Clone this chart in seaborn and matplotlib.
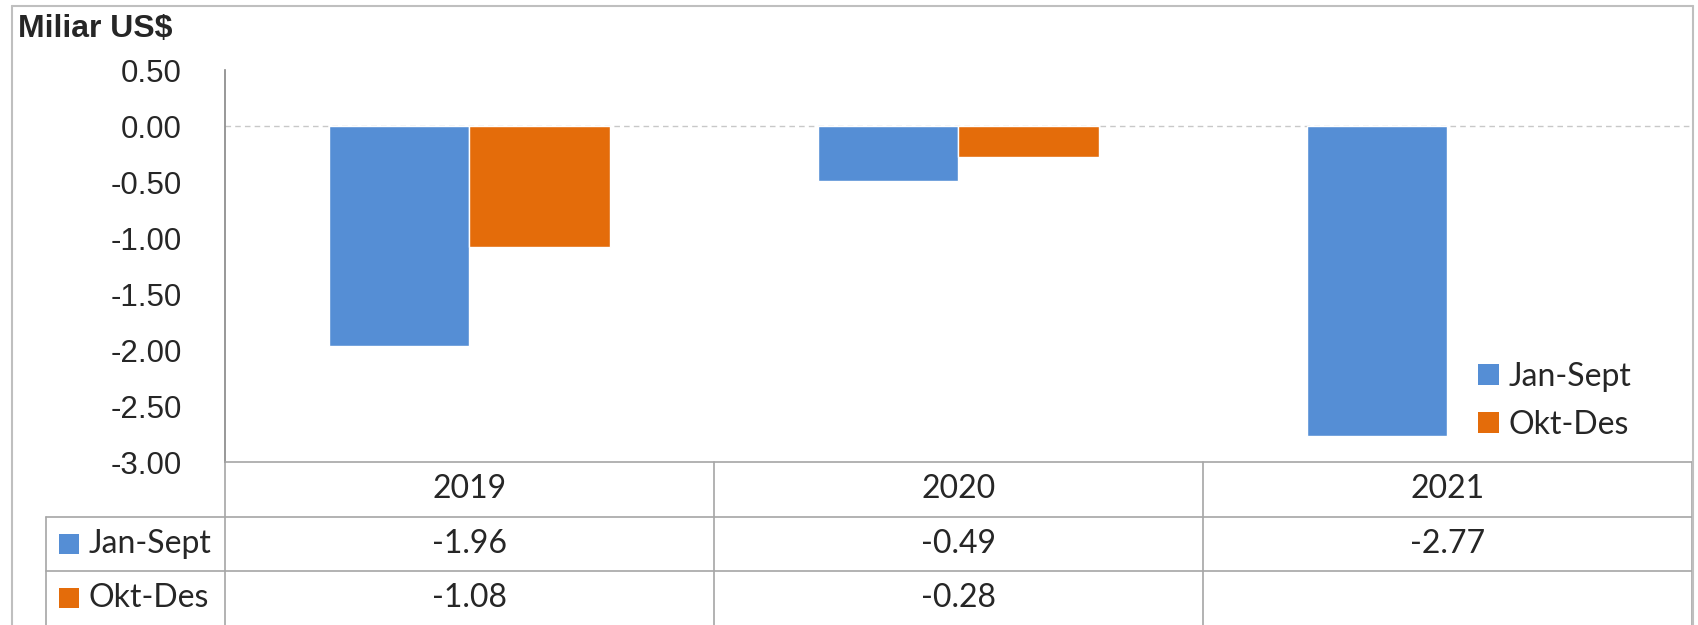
import matplotlib
matplotlib.use('Agg')
import matplotlib.pyplot as plt
import matplotlib.transforms as mtransforms
from matplotlib.patches import Patch, Rectangle
from matplotlib.ticker import FuncFormatter
import seaborn as sns
import pandas as pd
import numpy as np

# data
years = ['2019', '2020', '2021']
series = ['Jan-Sept', 'Okt-Des']
jan_sept = [-1.96, -0.49, -2.77]
okt_des = [-1.08, -0.28, np.nan]
table_text = {
    'Jan-Sept': ['-1.96', '-0.49', '-2.77'],
    'Okt-Des': ['-1.08', '-0.28', ''],
}
y_ticks = [0.5, 0.0, -0.5, -1.0, -1.5, -2.0, -2.5, -3.0]
unit_label = 'Miliar US$'

colors = {'Jan-Sept': '#558ED5', 'Okt-Des': '#E46C0A'}
line_gray = '#A6A6A6'
axis_gray = '#868686'

narrow = ['Liberation Sans', 'DejaVu Sans']
body = ['Lato', 'DejaVu Sans']

df = pd.DataFrame({
    'Tahun': years * 2,
    'Periode': [series[0]] * 3 + [series[1]] * 3,
    'Nilai': jan_sept + okt_des,
}).dropna()

sns.set_style('white')
W, H = 1699, 625
fig = plt.figure(figsize=(W / 100, H / 100), dpi=100)

def fx(px):
    return px / W

def fy(py):
    return 1 - py / H

ax_left, ax_right, ax_top, ax_bot = 225, 1692, 70, 462
ax = fig.add_axes([fx(ax_left), fy(ax_bot), fx(ax_right - ax_left), (ax_bot - ax_top) / H])

sns.barplot(data=df, x='Tahun', y='Nilai', hue='Periode', order=years,
            hue_order=series, palette=colors, width=0.573, saturation=1,
            errorbar=None, legend=False, ax=ax)

ax.set_xlim(-0.5, 2.5)
ax.set_ylim(-3.0, 0.5)
ax.set_yticks(y_ticks)
ax.yaxis.set_major_formatter(FuncFormatter(lambda v, p: f'{v:.2f}'))
ax.set_xticks([])
ax.set_xlabel('')
ax.set_ylabel('')
ax.axhline(0, ls=(0, (4, 3)), color='#C8C8C8', lw=1, zorder=0)

for s in ['top', 'right']:
    ax.spines[s].set_visible(False)
ax.spines['left'].set_color(axis_gray)
ax.spines['left'].set_linewidth(1.2)
ax.spines['bottom'].set_color(line_gray)
ax.spines['bottom'].set_linewidth(1.2)
ax.tick_params(axis='y', direction='in', length=9, width=1.2, color=axis_gray,
               pad=31, labelsize=22.5)
for lab in ax.get_yticklabels():
    lab.set_family(narrow)

# legend inside the plot
handles = [Patch(facecolor=colors[s], edgecolor='none') for s in series]
ax.legend(handles, series, loc='upper left', bbox_to_anchor=(fx(1478), fy(362)),
          bbox_transform=fig.transFigure, frameon=False, borderpad=0,
          borderaxespad=0, handlelength=0.65, handleheight=0.65,
          handletextpad=0.3, labelspacing=0.55,
          prop={'family': body, 'size': 23})

# data table below the axis
trans = mtransforms.blended_transform_factory(ax.transData, fig.transFigure)
row_lines = [517, 571]
for x in [-0.5, 0.5, 1.5, 2.5]:
    ax.plot([x, x], [fy(ax_bot), 0], transform=trans, color=line_gray, lw=1.2,
            clip_on=False)
for r in row_lines:
    fig.add_artist(plt.Line2D([fx(46), fx(ax_right)], [fy(r), fy(r)],
                              color=line_gray, lw=1.2))
fig.add_artist(plt.Line2D([fx(46), fx(46)], [fy(517), 0], color=line_gray, lw=1.2))

for i, yr in enumerate(years):
    ax.text(i, fy(489), yr, transform=trans, ha='center', va='center',
            fontsize=23, family=body)

row_centers = {'Jan-Sept': 544, 'Okt-Des': 598}
for s in series:
    yc = row_centers[s]
    fig.add_artist(Rectangle((fx(59), fy(yc + 10)), fx(20), 20 / H,
                             facecolor=colors[s], edgecolor='none'))
    fig.text(fx(89), fy(yc), s, ha='left', va='center', fontsize=23, family=body)
    for i, t in enumerate(table_text[s]):
        ax.text(i, fy(yc), t, transform=trans, ha='center', va='center',
                fontsize=23, family=body)

# outer chart frame and unit label
fig.add_artist(plt.Line2D([fx(12), fx(12)], [fy(6), 0], color='#BFBFBF', lw=1.5))
fig.add_artist(plt.Line2D([fx(12), fx(1693)], [fy(6), fy(6)], color='#BFBFBF', lw=1.5))
fig.add_artist(plt.Line2D([fx(1693), fx(1693)], [fy(6), 0], color='#BFBFBF', lw=1.5))
fig.text(fx(18), fy(29), unit_label, ha='left', va='center', fontsize=23,
         fontweight='bold', family=narrow)

fig.savefig('out.png', dpi=100)
